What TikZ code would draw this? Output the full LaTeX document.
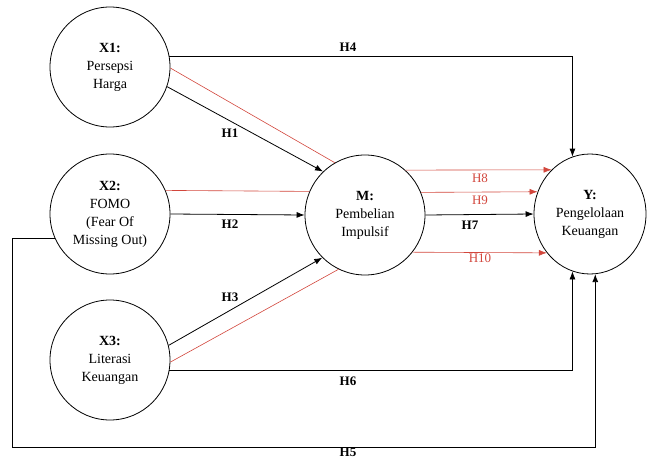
\documentclass[tikz,border=0pt]{standalone}
\usepackage{fontspec}
\setmainfont{Liberation Serif}
\usetikzlibrary{arrows.meta, shapes.geometric}
\definecolor{hypred}{RGB}{210, 70, 60}

\begin{document}
\begin{tikzpicture}[x=1pt, y=-1pt, >={Latex[length=8pt, width=6pt]}, line width=0.8pt,
    var/.style={circle, draw, line width=0.8pt, minimum size=120pt, inner sep=0pt,
        align=center, font=\fontsize{14}{18}\selectfont},
    lbl/.style={font=\fontsize{13}{15}\selectfont\bfseries},
    rlbl/.style={font=\fontsize{13}{15}\selectfont, text=hypred},
    red path/.style={hypred, line width=0.6pt}]
    \useasboundingbox (0,0) rectangle (647,460);

    % variabel
    \node[var] (X1) at (110,67) {\textbf{X1:}\\Persepsi\\Harga};
    \node[var] (X2) at (110,214) {\textbf{X2:}\\FOMO\\(Fear Of\\Missing Out)};
    \node[var] (X3) at (110,360) {\textbf{X3:}\\Literasi\\Keuangan};
    \node[var] (M) at (365,215) {\textbf{M:}\\Pembelian\\Impulsif};
    \node[var, ellipse, minimum width=112pt, minimum height=120pt] (Y) at (590,214)
        {\textbf{Y:}\\Pengelolaan\\Keuangan};

    % jalur merah (mediasi)
    \draw[red path] (X1.-1) -- (M.120);
    \draw[red path] (X2.23.4) -- (M.157.9);
    \draw[red path] (X3.-2) -- (M.-116);
    \draw[red path, ->] (M.48.6) -- (Y.131);
    \draw[red path, ->] (M.22.5) -- (Y.157.1);
    \draw[red path, ->] (M.-38) -- (Y.-138.7);

    % jalur langsung
    \draw[->] (X1.-19) -- (M.134);
    \draw[->] (X2.east) -- (M.west);
    \draw[->] (X3.14) -- (M.-135);
    \draw[->] (M.east) -- (Y.west);
    \draw[->] (X1.10) -| (Y.107.6);
    \draw[->] (X3.-10) -| (Y.-107.6);
    \coordinate (H5corner) at (12,447);
    \draw[->] (X2.204) -| (H5corner) -| (Y.-85);

    % label
    \node[lbl] (lH4) at (348,47) {H4};
    \node[lbl] (lH1) at (230,133) {H1};
    \node[lbl] (lH2) at (230,224) {H2};
    \node[lbl] (lH3) at (230,297) {H3};
    \node[lbl] (lH6) at (348,381) {H6};
    \node[lbl] (lH5) at (348,452) {H5};
    \node[lbl] (lH7) at (470,225) {H7};
    \node[rlbl] (lH8) at (480,178) {H8};
    \node[rlbl] (lH9) at (480,200) {H9};
    \node[rlbl] (lH10) at (480,258) {H10};
\end{tikzpicture}
\end{document}
